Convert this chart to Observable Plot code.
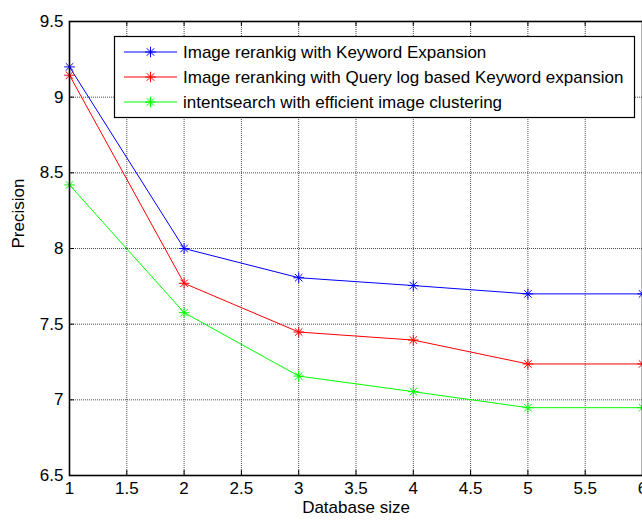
<!DOCTYPE html>
<html>
<head>
<meta charset="utf-8">
<script src="https://cdn.jsdelivr.net/npm/d3@7"></script>
<script src="https://cdn.jsdelivr.net/npm/@observablehq/plot@0.6"></script>
<style>
  html, body { margin: 0; padding: 0; background: #fff; }
  #chart { position: relative; width: 642px; height: 521px; overflow: hidden; }
</style>
</head>
<body>
<div id="chart"></div>
<script>
// ---- data ----
const databaseSize = [1, 2, 3, 4, 5, 6];
const keywordExpansion = [9.20, 8.00, 7.807, 7.755, 7.70, 7.70];
const queryLogExpansion = [9.145, 7.77, 7.448, 7.395, 7.237, 7.237];
const intentSearch = [8.42, 7.576, 7.157, 7.054, 6.948, 6.948];
const seriesNames = [
  "Image rerankig with Keyword Expansion",
  "Image reranking with Query log based Keyword expansion",
  "intentsearch with efficient image clustering"
];
const seriesColors = ["#0000ff", "#ff0000", "#00ff00"];
const xTicks = [1, 1.5, 2, 2.5, 3, 3.5, 4, 4.5, 5, 5.5, 6];
const yTicks = [6.5, 7, 7.5, 8, 8.5, 9, 9.5];

const seriesValues = [keywordExpansion, queryLogExpansion, intentSearch];
const rows = [];
seriesValues.forEach((vals, s) => {
  vals.forEach((v, i) => rows.push({series: seriesNames[s], x: databaseSize[i], y: v}));
});

const W = 642, H = 521;
const mL = 69, mR = 0, mT = 21, mB = 46;
const frameH = H - mT - mB;
const tickLen = 5;
const fmt = d => String(d);

const chart = Plot.plot({
  width: W,
  height: H,
  marginLeft: mL,
  marginRight: mR,
  marginTop: mT,
  marginBottom: mB,
  style: {fontFamily: "'Liberation Sans', Arial, sans-serif", fontSize: "17px", background: "#fff", color: "#000"},
  x: {domain: [1, 6], ticks: xTicks, tickFormat: fmt},
  y: {domain: [6.5, 9.5], ticks: yTicks, tickFormat: fmt},
  color: {domain: seriesNames, range: seriesColors},
  marks: [
    Plot.gridX(xTicks, {stroke: "#000", strokeOpacity: 0.7, strokeDasharray: "1,1", strokeWidth: 1}),
    Plot.gridY(yTicks, {stroke: "#000", strokeOpacity: 0.7, strokeDasharray: "1,1", strokeWidth: 1}),
    // inward ticks
    Plot.tickX(xTicks, {x: d => d, insetTop: frameH - tickLen, stroke: "#000"}),
    Plot.tickX(xTicks, {x: d => d, insetBottom: frameH - tickLen, stroke: "#000"}),
    Plot.tickY(yTicks, {y: d => d, insetRight: (W - mL - mR) - tickLen, stroke: "#000"}),
    Plot.axisX(xTicks, {tickSize: 0, tickPadding: 6, label: null, fontSize: 17, tickFormat: fmt}),
    Plot.axisY(yTicks, {tickSize: 0, tickPadding: 6, label: null, fontSize: 17, tickFormat: fmt}),
    Plot.line(rows, {x: "x", y: "y", z: "series", stroke: "series", strokeWidth: 1}),
    Plot.dot(rows, {x: "x", y: "y", stroke: "series", symbol: "plus", r: 3.5, strokeWidth: 1}),
    Plot.dot(rows, {x: "x", y: "y", stroke: "series", symbol: "times", r: 3.5, strokeWidth: 1}),
    Plot.frame({stroke: "#000", strokeWidth: 1.6}),
    Plot.text(["Database size"], {frameAnchor: "bottom", dy: 37, fontSize: 17}),
    Plot.text(["Precision"], {frameAnchor: "left", dx: -51, rotate: -90, fontSize: 17})
  ]
});

document.getElementById("chart").appendChild(chart);

// ---- legend (inside plot, top right) ----
const svg = d3.select(chart);
const lg = svg.append("g")
  .attr("font-family", "'Liberation Sans', Arial, sans-serif")
  .attr("font-size", 17)
  .attr("text-anchor", "start");
lg.append("rect").attr("x", 114.5).attr("y", 36.5).attr("width", 520).attr("height", 81)
  .attr("fill", "#fff").attr("stroke", "#000").attr("stroke-width", 1.2);
const rowY = [52, 77, 102];
seriesNames.forEach((name, i) => {
  const y = rowY[i];
  lg.append("line").attr("x1", 124).attr("x2", 177).attr("y1", y).attr("y2", y)
    .attr("stroke", seriesColors[i]).attr("stroke-width", 1);
  lg.append("path").attr("transform", `translate(150.5,${y})`)
    .attr("d", d3.symbol(d3.symbolPlus, Math.PI * 3.5 * 3.5)())
    .attr("fill", "none").attr("stroke", seriesColors[i]);
  lg.append("path").attr("transform", `translate(150.5,${y})`)
    .attr("d", d3.symbol(d3.symbolTimes, Math.PI * 3.5 * 3.5)())
    .attr("fill", "none").attr("stroke", seriesColors[i]);
  lg.append("text").attr("x", 183).attr("y", y).attr("dy", "0.35em").attr("text-anchor", "start").text(name);
});
</script>
</body>
</html>
